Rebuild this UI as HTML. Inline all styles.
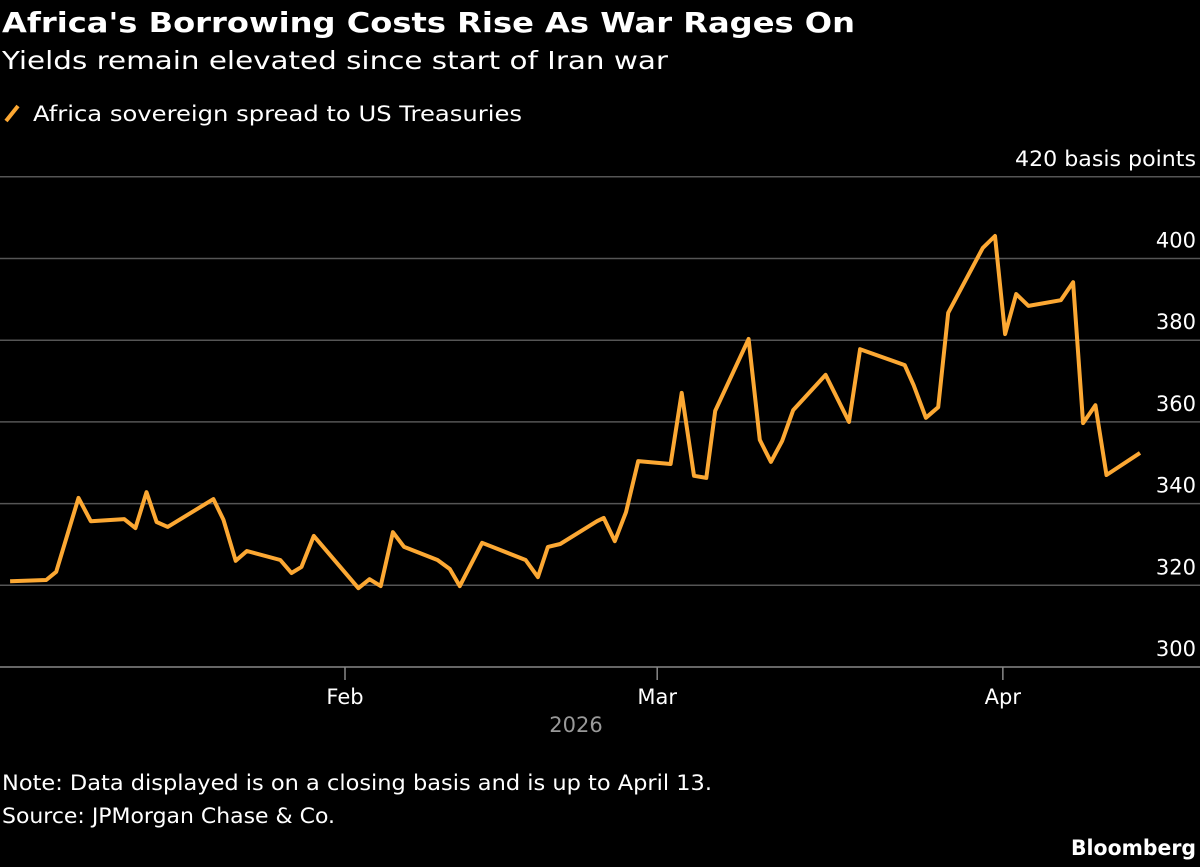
<!DOCTYPE html>
<html><head><meta charset="utf-8"><style>
body{margin:0;background:#000;width:1200px;height:863px;overflow:hidden;font-family:"DejaVu Sans","Liberation Sans",sans-serif;color:#fff}
text{font-family:"DejaVu Sans","Liberation Sans",sans-serif}
</style></head><body>
<svg width="1200" height="863">
<text x="2" y="32" font-size="28" font-weight="bold" fill="#fff" textLength="853" lengthAdjust="spacingAndGlyphs">Africa's Borrowing Costs Rise As War Rages On</text>
<text x="2" y="69" font-size="25" fill="#fff" textLength="666" lengthAdjust="spacingAndGlyphs">Yields remain elevated since start of Iran war</text>
<line x1="6" y1="121" x2="18" y2="106" stroke="#fca833" stroke-width="4"/>
<text x="33" y="121" font-size="21" fill="#fff" textLength="489" lengthAdjust="spacingAndGlyphs">Africa sovereign spread to US Treasuries</text>
<g id="grid"></g>
<g id="xaxis"></g>
<text x="576" y="732" font-size="21" fill="#999" text-anchor="middle">2026</text>
<polyline id="line" fill="none" stroke="#fca833" stroke-width="4" stroke-linejoin="round"/>
<text x="2" y="790" font-size="21" fill="#fff" textLength="710" lengthAdjust="spacingAndGlyphs">Note: Data displayed is on a closing basis and is up to April 13.</text>
<text x="2" y="823" font-size="21" fill="#fff" textLength="333" lengthAdjust="spacingAndGlyphs">Source: JPMorgan Chase &amp; Co.</text>
<text x="1196" y="855" font-size="21" font-weight="bold" fill="#fff" text-anchor="end" textLength="125" lengthAdjust="spacingAndGlyphs">Bloomberg</text>
</svg>
<script>
const days=[0.96,4.2,5.1,7.1,8.2,11.2,12.2,13.2,14.1,15.1,19.2,20.1,21.2,22.2,25.2,26.2,27.1,28.2,32.2,33.2,34.2,35.3,36.3,39.3,40.4,41.3,43.3,47.2,48.3,49.2,50.3,53.6,54.2,55.2,56.2,57.3,60.2,61.2,62.3,63.4,64.2,67.2,68.2,69.2,70.2,71.2,74.1,76.2,77.2,81.2,82.0,83.1,84.2,85.1,88.2,89.3,90.2,91.2,92.3,95.2,96.3,97.2,98.3,99.3,102.3];
const spread=[321,321.3,323.3,341.4,335.7,336.2,334.0,342.8,335.5,334.3,341.1,336.0,326.0,328.4,326.2,323.0,324.5,332.1,319.3,321.5,319.8,333.0,329.4,326.2,324.0,319.8,330.4,326.2,322.0,329.4,330.1,335.7,336.5,330.8,337.9,350.4,349.7,367.1,346.8,346.3,362.7,380.3,355.6,350.2,355.3,362.9,371.5,360.0,377.8,373.9,369.0,361.0,363.6,386.7,402.6,405.5,381.5,391.3,388.4,389.8,394.2,359.7,364.1,347.0,352.4];
const yTicks=[300,320,340,360,380,400,420];
const xTickDays=[31,59,90];
const xTickLabels=["Feb","Mar","Apr"];
const NS="http://www.w3.org/2000/svg";
const X=d=>345+(d-31)*11.15;
const Y=v=>667-(v-300)*4.085;
const grid=document.getElementById('grid');
yTicks.forEach(t=>{
  const l=document.createElementNS(NS,'line');
  l.setAttribute('x1',0);l.setAttribute('x2',1200);l.setAttribute('y1',Y(t));l.setAttribute('y2',Y(t));
  l.setAttribute('stroke',t===300?'#888':'#555');l.setAttribute('stroke-width',1.5);
  
  
  grid.appendChild(l);
  const tx=document.createElementNS(NS,'text');
  tx.setAttribute('x',1196);tx.setAttribute('y',Y(t)-11);tx.setAttribute('text-anchor','end');
  tx.setAttribute('font-size','21');tx.setAttribute('fill','#fff');
  tx.textContent=t===420?'420 basis points':String(t);
  if(t===420){tx.setAttribute('textLength','181');tx.setAttribute('lengthAdjust','spacingAndGlyphs');}
  
  
  grid.appendChild(tx);
});
const xa=document.getElementById('xaxis');
xTickDays.forEach((d,i)=>{
  const l=document.createElementNS(NS,'line');
  l.setAttribute('x1',X(d));l.setAttribute('x2',X(d));l.setAttribute('y1',667);l.setAttribute('y2',680);
  l.setAttribute('stroke','#888');l.setAttribute('stroke-width',1.5);
  
  
  xa.appendChild(l);
  const tx=document.createElementNS(NS,'text');
  tx.setAttribute('x',X(d));tx.setAttribute('y',704);tx.setAttribute('text-anchor','middle');
  tx.setAttribute('font-size','21');tx.setAttribute('fill','#fff');
  tx.textContent=xTickLabels[i];
  
  
  xa.appendChild(tx);
});
document.getElementById('line').setAttribute('points',days.map((d,i)=>X(d).toFixed(1)+','+Y(spread[i]).toFixed(1)).join(' '));
</script>
</body></html>
